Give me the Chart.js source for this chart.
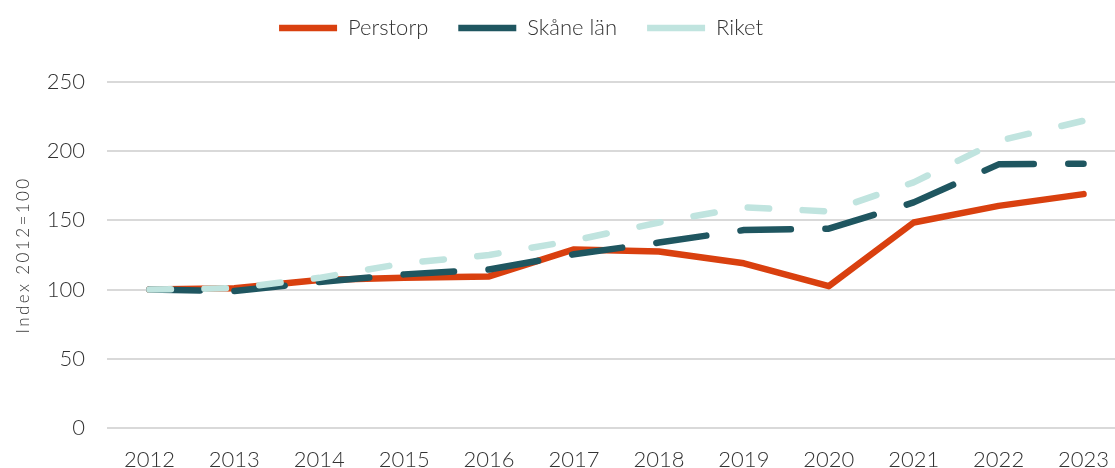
<!DOCTYPE html>
<html>
<head>
<meta charset="utf-8">
<script src="https://cdn.jsdelivr.net/npm/chart.js@4"></script>
<style>
html,body{margin:0;padding:0;background:#fff;overflow:hidden;}
#wrap{width:1115px;height:468px;}
</style>
</head>
<body>
<div id="wrap"><canvas id="c" width="1115" height="468"></canvas></div>
<script>
const years = ['2012','2013','2014','2015','2016','2017','2018','2019','2020','2021','2022','2023'];
const perstorp = [100, 101, 107, 108.5, 109.5, 129, 127.5, 119, 102.5, 148.5, 160.5, 169];
const skane = [100, 99, 105.5, 111, 114.5, 125.5, 134, 143, 144, 163, 190.5, 191];
const riket = [100, 101, 108.5, 119, 125, 135.5, 148.5, 159.5, 156.5, 177.5, 207.5, 222];
const seriesNames = ['Perstorp', 'Skåne län', 'Riket'];
const yTitle = 'Index 2012=100';

const FONT = 'Lato';
const TXT = '#333333';

// layout helper: fixed legend height/centre, plot area running past the right edge, spaced y title
const layoutTweaks = {
  id: 'layoutTweaks',
  beforeLayout(chart) {
    const lg = chart.legend;
    if (lg && !lg._patched) {
      const f = lg.fit;
      lg.fit = function () { f.call(this); this.height = 95; };
      lg._patched = true;
    }
  },
  afterLayout(chart) {
    const lg = chart.legend;
    const shift = 521 - (lg.left + lg.right) / 2;
    lg.left += shift;
    lg.right += shift;

    const plotRight = 1126;
    const xs = chart.scales.x;
    xs.right = plotRight;
    xs.width = xs.right - xs.left;
    xs.configure();
    chart.chartArea.right = plotRight;
    chart.chartArea.width = plotRight - chart.chartArea.left;

    const ys = chart.scales.y;
    if (ys && !ys._patched) {
      const d = ys.drawTitle;
      ys.drawTitle = function () {
        const ctx = this.ctx;
        ctx.save();
        ctx.letterSpacing = '2.4px';
        d.apply(this, arguments);
        ctx.restore();
      };
      ys._patched = true;
    }
  }
};

new Chart(document.getElementById('c'), {
  type: 'line',
  data: {
    labels: years,
    datasets: [
      {label: seriesNames[0], data: perstorp, borderColor: '#D9400F', backgroundColor: '#D9400F',
       borderWidth: 6.5, borderCapStyle: 'round', borderJoinStyle: 'round', pointRadius: 0, order: 3},
      {label: seriesNames[1], data: skane, borderColor: '#1F5660', backgroundColor: '#1F5660',
       borderWidth: 6.5, borderDash: [50.5, 34.5], borderCapStyle: 'round', borderJoinStyle: 'round', pointRadius: 0, order: 2},
      {label: seriesNames[2], data: riket, borderColor: '#C0E4DF', backgroundColor: '#C0E4DF',
       borderWidth: 6.5, borderDash: [21.5, 33.5], borderCapStyle: 'round', borderJoinStyle: 'round', pointRadius: 0, order: 1}
    ]
  },
  options: {
    responsive: false,
    animation: false,
    layout: {padding: {left: 22, right: 0, top: -13, bottom: -24.4}},
    plugins: {
      tooltip: {enabled: false},
      legend: {
        position: 'top',
        labels: {
          usePointStyle: true,
          pointStyle: 'line',
          pointStyleWidth: 58,
          boxHeight: 22,
          padding: 30,
          color: TXT,
          font: {family: FONT, size: 22, weight: 300},
          sort: (a, b) => a.datasetIndex - b.datasetIndex
        }
      }
    },
    scales: {
      x: {
        offset: true,
        grid: {display: false, drawTicks: false},
        border: {display: false},
        ticks: {color: TXT, font: {family: FONT, size: 22, weight: 300}, padding: 19, maxRotation: 0, autoSkip: false}
      },
      y: {
        min: 0, max: 250,
        grid: {color: '#d9d9d9', lineWidth: 2, drawTicks: false},
        border: {display: false},
        ticks: {stepSize: 50, color: TXT, font: {family: FONT, size: 22, weight: 300}, padding: 22},
        title: {display: true, text: yTitle, color: TXT, font: {family: FONT, size: 17, weight: 300, lineHeight: 0.1}, padding: {top: 1, bottom: 0}}
      }
    }
  },
  plugins: [layoutTweaks]
});
</script>
</body>
</html>
